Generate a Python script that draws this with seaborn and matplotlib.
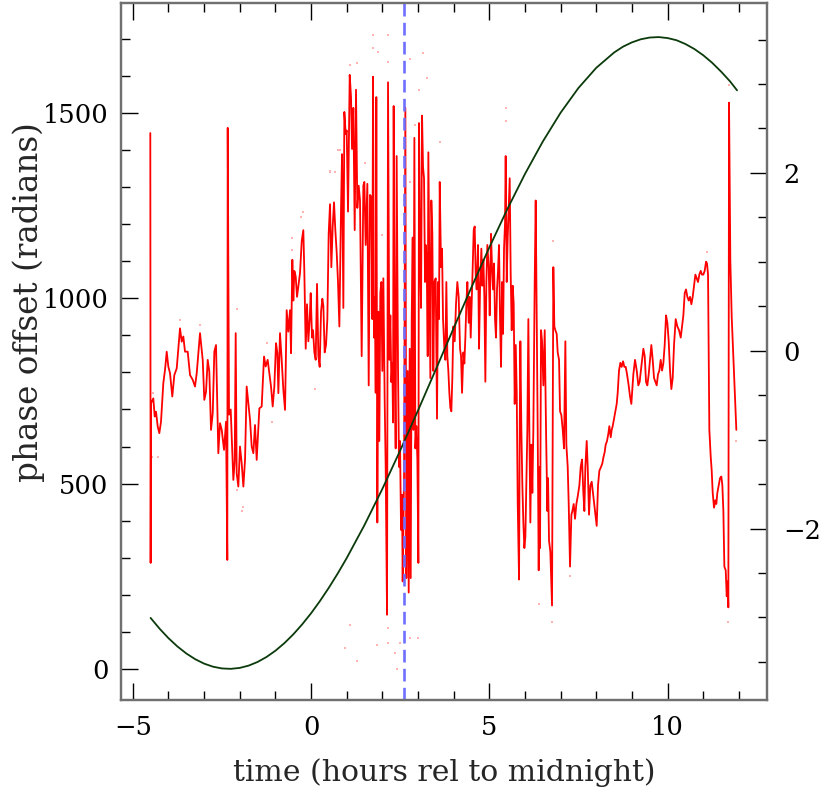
import numpy as np
import pandas as pd
import matplotlib
matplotlib.use("Agg")
import matplotlib.pyplot as plt
import seaborn as sns
from matplotlib.ticker import MultipleLocator

# ---------------- data ----------------
red_t = [-4.508, -4.499, -4.488, -4.424, -4.384, -4.348, -4.300, -4.255, -4.208, -4.143,
         -4.095, -4.048, -4.003, -3.955, -3.891, -3.834, -3.767, -3.675, -3.627, -3.582,
         -3.534, -3.459, -3.394, -3.318, -3.254, -3.206, -3.114, -3.038, -2.993, -2.945,
         -2.898, -2.853, -2.805, -2.757, -2.712, -2.665, -2.600, -2.553, -2.505, -2.440,
         -2.384, -2.348, -2.337, -2.300, -2.253, -2.179, -2.141, -2.113, -2.085, -2.039,
         -1.992, -1.945, -1.898, -1.851, -1.805, -1.758, -1.711, -1.664, -1.617, -1.571,
         -1.524, -1.449, -1.384, -1.318, -1.272, -1.216, -1.169, -1.122, -1.075, -1.029,
         -0.982, -0.944, -0.916, -0.870, -0.823, -0.776, -0.729, -0.683, -0.636, -0.589,
         -0.561, -0.524, -0.496, -0.468, -0.430, -0.393, -0.355, -0.309, -0.261, -0.216,
         -0.188, -0.149, -0.112, -0.075, -0.037, -0.009, 0.028, 0.056, 0.094, 0.131,
         0.168, 0.206, 0.243, 0.281, 0.318, 0.346, 0.383, 0.421, 0.458, 0.495,
         0.533, 0.570, 0.608, 0.645, 0.682, 0.720, 0.757, 0.795, 0.842, 0.870,
         0.907, 0.935, 0.973, 1.001, 1.038, 1.085, 1.122, 1.150, 1.187, 1.225,
         1.262, 1.299, 1.337, 1.374, 1.421, 1.468, 1.496, 1.533, 1.580, 1.618,
         1.655, 1.693, 1.720, 1.739, 1.767, 1.795, 1.814, 1.832, 1.860, 1.888,
         1.916, 1.944, 1.972, 2.000, 2.029, 2.066, 2.094, 2.132, 2.160, 2.197,
         2.225, 2.253, 2.281, 2.300, 2.318, 2.346, 2.374, 2.402, 2.440, 2.468,
         2.496, 2.525, 2.553, 2.571, 2.609, 2.646, 2.674, 2.712, 2.740, 2.768,
         2.796, 2.824, 2.852, 2.871, 2.899, 2.927, 2.955, 2.983, 3.011, 3.029,
         3.058, 3.086, 3.114, 3.142, 3.170, 3.198, 3.216, 3.245, 3.273, 3.291,
         3.319, 3.347, 3.375, 3.403, 3.431, 3.459, 3.497, 3.534, 3.562, 3.590,
         3.610, 3.647, 3.675, 3.703, 3.740, 3.768, 3.796, 3.824, 3.852, 3.880,
         3.908, 3.936, 3.964, 3.992, 4.030, 4.067, 4.104, 4.142, 4.180, 4.208,
         4.236, 4.273, 4.301, 4.329, 4.357, 4.385, 4.423, 4.451, 4.479, 4.507,
         4.535, 4.563, 4.591, 4.619, 4.647, 4.684, 4.712, 4.741, 4.778, 4.806,
         4.834, 4.862, 4.890, 4.918, 4.946, 4.984, 5.012, 5.049, 5.077, 5.105,
         5.133, 5.161, 5.189, 5.217, 5.245, 5.273, 5.302, 5.330, 5.358, 5.386,
         5.414, 5.442, 5.460, 5.489, 5.517, 5.545, 5.573, 5.601, 5.629, 5.657,
         5.685, 5.713, 5.742, 5.770, 5.798, 5.835, 5.854, 5.872, 5.900, 5.928,
         5.956, 5.984, 6.012, 6.040, 6.068, 6.096, 6.124, 6.152, 6.180, 6.208,
         6.236, 6.274, 6.302, 6.330, 6.358, 6.386, 6.414, 6.424, 6.452, 6.480,
         6.517, 6.555, 6.592, 6.629, 6.648, 6.676, 6.713, 6.760, 6.797, 6.825,
         6.853, 6.891, 6.919, 6.957, 6.985, 7.022, 7.060, 7.097, 7.134, 7.162,
         7.200, 7.228, 7.265, 7.303, 7.331, 7.368, 7.405, 7.443, 7.480, 7.527,
         7.564, 7.602, 7.639, 7.667, 7.695, 7.733, 7.761, 7.798, 7.835, 7.873,
         7.920, 7.966, 8.013, 8.050, 8.088, 8.135, 8.172, 8.200, 8.237, 8.265,
         8.303, 8.340, 8.368, 8.406, 8.434, 8.462, 8.499, 8.536, 8.574, 8.602,
         8.639, 8.677, 8.714, 8.752, 8.789, 8.827, 8.864, 8.910, 8.948, 8.985,
         9.041, 9.088, 9.136, 9.181, 9.220, 9.229, 9.276, 9.322, 9.360, 9.397,
         9.434, 9.472, 9.509, 9.546, 9.584, 9.621, 9.658, 9.696, 9.733, 9.771,
         9.808, 9.846, 9.883, 9.920, 9.958, 9.995, 10.033, 10.070, 10.107, 10.145,
         10.182, 10.229, 10.276, 10.323, 10.370, 10.407, 10.444, 10.482, 10.519, 10.556,
         10.594, 10.631, 10.669, 10.706, 10.743, 10.781, 10.818, 10.855, 10.892, 10.930,
         10.967, 11.004, 11.042, 11.080, 11.108, 11.136, 11.173, 11.211, 11.239, 11.267,
         11.304, 11.341, 11.369, 11.397, 11.435, 11.473, 11.510, 11.538, 11.566, 11.594,
         11.632, 11.660, 11.688, 11.706, 11.725, 11.762, 11.800, 11.837, 11.874, 11.902,
         11.930]
red_v = [1446, 286, 717, 730, 681, 694, 654, 636, 667, 771,
         807, 856, 816, 798, 735, 793, 811, 919, 883, 897,
         856, 856, 793, 780, 762, 798, 906, 834, 726, 748,
         834, 802, 645, 690, 856, 874, 582, 663, 645, 591,
         667, 294, 1460, 686, 700, 510, 560, 906, 528, 492,
         600, 555, 492, 564, 762, 717, 672, 600, 582, 658,
         564, 703, 708, 843, 816, 834, 798, 762, 708, 762,
         879, 852, 744, 906, 834, 753, 699, 968, 910, 968,
         852, 1104, 994, 1074, 1059, 1004, 1032, 1068, 1154, 1184,
         1074, 864, 984, 884, 944, 1014, 894, 914, 854, 834,
         1039, 844, 815, 964, 999, 980, 854, 874, 944, 1174,
         1254, 1084, 1194, 1259, 1184, 1124, 1044, 924, 1244, 1389,
         974, 1503, 1443, 1453, 1234, 1603, 1543, 1403, 1514, 1184,
         1563, 1244, 1304, 1264, 844, 1304, 1314, 1144, 1309, 765,
         1279, 1274, 944, 1598, 894, 1004, 745, 1543, 395, 964,
         615, 1014, 1044, 804, 1054, 726, 545, 146, 1583, 834,
         954, 774, 825, 665, 1519, 844, 595, 1384, 815, 545,
         615, 375, 470, 236, 515, 1514, 245, 804, 206, 864,
         245, 944, 1164, 645, 1433, 595, 655, 565, 286, 1473,
         1124, 974, 1493, 1354, 1324, 1044, 1144, 1104, 844, 1394,
         1104, 785, 1264, 1174, 804, 1044, 1054, 675, 1044, 944,
         1314, 1084, 1134, 944, 864, 834, 1044, 844, 804, 745,
         705, 695, 785, 924, 884, 985, 1044, 1004, 864, 844,
         745, 854, 824, 894, 985, 1044, 934, 1004, 894, 985,
         1084, 1184, 1194, 1064, 1024, 1144, 864, 1024, 1134, 1034,
         1104, 1004, 775, 1044, 1144, 1084, 954, 1174, 1084, 1024,
         1094, 944, 894, 1024, 1074, 1144, 944, 815, 1044, 904,
         1134, 1204, 1384, 1044, 1164, 1244, 1324, 1064, 914, 1034,
         985, 715, 874, 745, 445, 241, 645, 884, 645, 495,
         395, 326, 356, 495, 645, 944, 645, 395, 605, 475,
         645, 1044, 1264, 944, 645, 266, 545, 326, 914, 884,
         765, 914, 645, 426, 515, 346, 316, 171, 1084, 924,
         914, 904, 854, 834, 695, 685, 645, 595, 884, 605,
         545, 445, 276, 416, 426, 445, 405, 445, 465, 495,
         545, 565, 475, 426, 545, 615, 545, 416, 495, 505,
         465, 426, 386, 495, 535, 545, 555, 570, 585, 605,
         615, 635, 655, 625, 645, 655, 675, 695, 715, 745,
         805, 826, 815, 830, 815, 815, 795, 765, 735, 715,
         795, 834, 805, 765, 775, 785, 825, 864, 844, 774,
         765, 795, 834, 874, 834, 785, 775, 765, 795, 805,
         834, 805, 825, 874, 954, 934, 884, 804, 755, 785,
         874, 944, 924, 914, 894, 924, 954, 1014, 1024, 1004,
         994, 1004, 984, 1004, 1034, 1064, 1054, 1044, 1064, 1074,
         1064, 1064, 1074, 1099, 1094, 1064, 645, 573, 535, 475,
         435, 455, 445, 475, 495, 515, 519, 495, 426, 276,
         266, 196, 236, 166, 1528, 1100, 950, 864, 775, 715,
         645]

dot_t = [1.748, 2.168, 1.748, 1.888, 2.777, 3.133, 1.094, 1.282, 2.168, 3.246,
         3.038, 2.917, 0.813, 0.533, 0.673, -0.216, -0.281, -0.541, -0.541, 1.515,
         1.983, 2.777, 1.094, 0.954, 1.282, 1.843, 2.151, 2.356, 2.404, 2.151,
         2.777, 3.010, 2.496, 3.619, 5.461, 5.461, 6.386, 6.797, 6.760, 7.265,
         11.099, 11.706, 11.734, 11.930, -4.469, -2.085, 0.766, 0.533, 0.112, -1.103,
         -1.944, -4.441, -4.300, -3.675, -3.114, -2.085, -1.898, -1.243]
dot_v = [1711, 1711, 1675, 1666, 1645, 1661, 1630, 1634, 1639, 1594,
         1562, 1468, 1400, 1342, 1342, 1234, 1220, 1162, 1130, 1364,
         1171, 1315, 119, 56, 22, 65, 69, 42, 0, 110,
         83, 83, 69, 1423, 1514, 1478, 176, 1154, 127, 251,
         1126, 127, 1576, 615, 573, 972, 1399, 1344, 755, 665,
         426, 744, 573, 942, 928, 483, 438, 879]

model_t = [-4.5, -4.25, -4.0, -3.75, -3.5, -3.25, -3.0, -2.75, -2.5, -2.25,
           -2.0, -1.75, -1.5, -1.25, -1.0, -0.75, -0.5, -0.25, 0.0, 0.25,
           0.5, 0.75, 1.0, 1.5, 2.0, 2.5, 3.0, 3.5, 4.0, 4.5,
           5.0, 5.5, 6.0, 6.5, 7.0, 7.5, 8.0, 8.5, 8.75, 9.0,
           9.25, 9.5, 9.75, 10.0, 10.25, 10.5, 10.75, 11.0, 11.25, 11.5,
           11.75, 11.95]
model_v = [137.5, 108.7, 83.0, 60.7, 41.7, 26.2, 14.2, 5.9, 1.2, 0.1,
           2.6, 8.8, 18.6, 32.0, 48.9, 69.2, 92.9, 119.9, 149.9, 183.0,
           219.0, 257.6, 298.8, 388.2, 485.5, 589.1, 697.1, 807.9, 919.4, 1029.7,
           1137.1, 1239.5, 1335.4, 1422.9, 1500.8, 1567.5, 1622.0, 1663.3, 1679.1, 1690.7,
           1699.1, 1703.8, 1705.0, 1702.4, 1696.6, 1686.4, 1673.0, 1656.1, 1635.8, 1612.1,
           1585.9, 1561.3]

event_t = 2.61

x_ticks_major = [-5, 0, 5, 10]
left_ticks_major = [0, 500, 1000, 1500]
right_ticks_major = [-2, 0, 2]

# ---------------- style ----------------
sns.set_style("ticks")
plt.rcParams['font.family'] = ['DejaVu Serif']
plt.rcParams['axes.unicode_minus'] = True
FS_TICK = 18.5
FS_XLABEL = 21.5
FS_YLABEL = 23.5

fig = plt.figure(figsize=(8.22, 7.87), dpi=100)
ax = fig.add_axes([121 / 822, 1 - 700 / 787, (767 - 121) / 822, 697 / 787])

sns.scatterplot(x=dot_t, y=dot_v, ax=ax, color='#ffb4b4', s=3, marker='s',
                linewidth=0, zorder=1.9, legend=False)
sns.lineplot(x=red_t, y=red_v, ax=ax, color='#ff0000', lw=1.3, sort=False,
             estimator=None, zorder=2)
sns.lineplot(x=model_t, y=model_v, ax=ax, color='#0b3a0b', lw=1.3, sort=False,
             estimator=None, zorder=3)
ax.axvline(event_t, color='#6f6fff', lw=1.9, ls=(0, (4.8, 2.4)), zorder=4)

ax.set_xlim(-5.33, 12.79)
ax.set_ylim(-84, 1797)
ax.set_xticks(x_ticks_major)
ax.set_yticks(left_ticks_major)
ax.xaxis.set_minor_locator(MultipleLocator(1))
ax.yaxis.set_minor_locator(MultipleLocator(100))
ax.tick_params(which='both', direction='in', top=True, right=False,
               colors='black', width=1.0, labelsize=FS_TICK)
ax.tick_params(which='major', length=12.5)
ax.tick_params(which='minor', length=6.5)
ax.tick_params(axis='x', pad=11)
ax.tick_params(axis='y', pad=9)
ax.set_xlabel('time (hours rel to midnight)', fontsize=FS_XLABEL)
ax.set_ylabel('phase offset (radians)', fontsize=FS_YLABEL)
ax.xaxis.set_label_coords(0.5, -0.083)
ax.yaxis.set_label_coords(-0.117, 0.571)

ax2 = ax.twinx()
ax2.set_ylim(-3.929, 3.911)
ax2.set_yticks(right_ticks_major)
ax2.yaxis.set_minor_locator(MultipleLocator(0.5))
ax2.tick_params(which='both', direction='in', left=False, right=True,
                colors='black', width=1.0, labelsize=FS_TICK, pad=12)
ax2.tick_params(which='major', length=12.5)
ax2.tick_params(which='minor', length=6.5)

for a in (ax, ax2):
    for s in a.spines.values():
        s.set_color('#707070')
        s.set_linewidth(1.6)

fig.savefig('out.png', dpi=100)
